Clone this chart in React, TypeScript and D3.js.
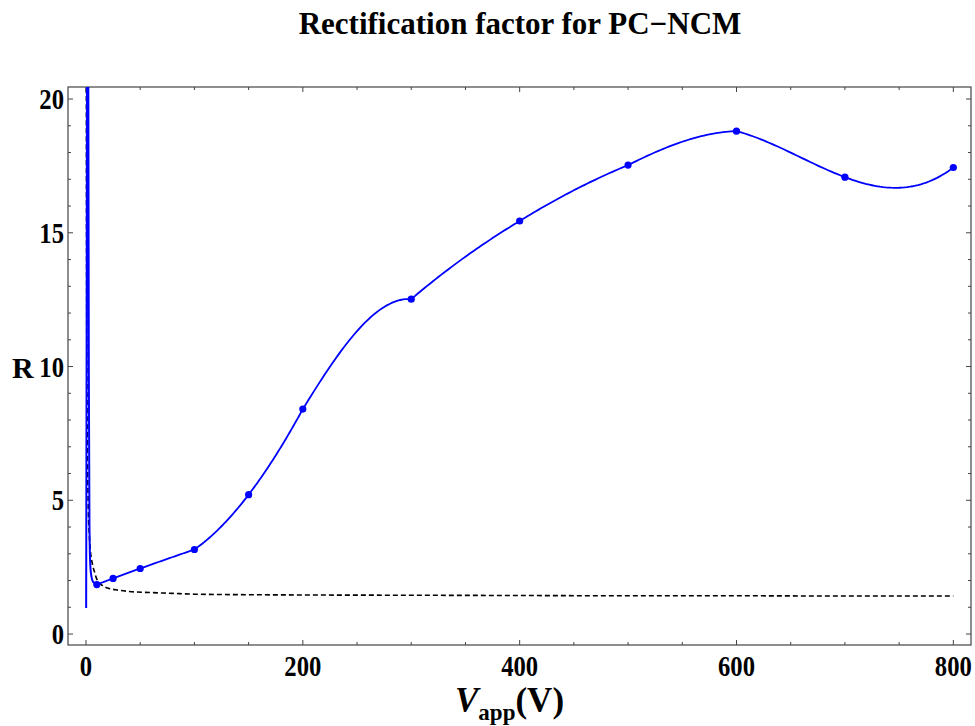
import React from "react";
import * as d3 from "d3";

// Measured points (blue dots)
const voltages = [10, 25, 50, 100, 150, 200, 300, 400, 500, 600, 700, 800];
const rValues = [1.85, 2.08, 2.45, 3.16, 5.21, 8.41, 12.52, 15.44, 17.53, 18.8, 17.08, 17.44];

// Low-voltage spike of the blue interpolating curve
const spikeV = [0.15, 0.7, 1.3, 2.0, 2.6, 3.2, 4.5, 6.5, 10];
const spikeR = [0.97, 14, 32, 24, 10, 4, 2.3, 1.95, 1.85];

// Dashed reference curve
const dashV = [0.3, 0.5, 1, 2, 3, 4, 6, 8, 10, 15, 20, 30, 40, 60, 80, 100, 150, 200, 300, 400, 500, 600, 700, 800];
const dashR = [24, 15, 8.4, 4.9, 3.75, 3.15, 2.6, 2.3, 2.05, 1.82, 1.72, 1.64, 1.59, 1.55, 1.52, 1.49, 1.47, 1.46, 1.45, 1.44, 1.43, 1.43, 1.42, 1.42];

const xMajor = [0, 200, 400, 600, 800];
const yMajor = [0, 5, 10, 15, 20];

const FONT = "'Liberation Serif', 'Times New Roman', serif";
const SX = 0.85;

// local cubic (Lagrange) interpolation through the 4 nodes nearest each interval
function localCubic(xs: number[], ys: number[], perSeg = 40): [number, number][] {
  const n = xs.length;
  const out: [number, number][] = [];
  for (let i = 0; i < n - 1; i++) {
    const mid = (xs[i] + xs[i + 1]) / 2;
    const idx = d3.range(n).sort((a, b) => {
      const da = Math.abs(xs[a] - mid), db = Math.abs(xs[b] - mid);
      return da - db || a - b;
    }).slice(0, 4).sort((a, b) => a - b);
    for (let k = 0; k <= perSeg; k++) {
      if (i > 0 && k === 0) continue;
      const xv = xs[i] + ((xs[i + 1] - xs[i]) * k) / perSeg;
      let s = 0;
      for (const j of idx) {
        let L = 1;
        for (const m of idx) if (m !== j) L *= (xv - xs[m]) / (xs[j] - xs[m]);
        s += L * ys[j];
      }
      out.push([xv, s]);
    }
  }
  return out;
}

export default function App() {
  const W = 975, H = 726;
  const L = 68, R = 971, T = 87, B = 645;
  const x = d3.scaleLinear().domain([-16.6, 816.3]).range([L, R]);
  const y = d3.scaleLinear().domain([-0.41, 20.45]).range([B, T]);

  const main = d3.line<[number, number]>().x((d) => x(d[0])).y((d) => y(d[1]))(localCubic(voltages, rValues)) || "";
  const spike = d3.line<number>().x((_, i) => x(spikeV[i])).y((d) => y(d)).curve(d3.curveCatmullRom)(spikeR) || "";
  const dash = d3.line<number>().x((_, i) => x(dashV[i])).y((d) => y(d)).curve(d3.curveMonotoneX)(dashR) || "";

  const xMinor = d3.range(0, 801, 50).filter((v) => !xMajor.includes(v));
  const yMinor = d3.range(0, 21, 1).filter((v) => !yMajor.includes(v));
  const axisColor = "#444";

  return (
    <svg width={W} height={H} style={{ position: "absolute", left: 0, top: 0, background: "#fff" }} fontFamily={FONT}>
      <defs>
        <clipPath id="plotclip">
          <rect x={L} y={T} width={R - L} height={B - T} />
        </clipPath>
      </defs>
      <text transform={`translate(520,34)`} textAnchor="middle" fontSize={31} fontWeight="bold">
        Rectification factor for PC−NCM
      </text>

      {/* frame */}
      <rect x={L} y={T} width={R - L} height={B - T} fill="none" stroke={axisColor} strokeWidth={1.2} />

      {/* ticks */}
      {xMajor.map((v) => (
        <g key={"xM" + v}>
          <line x1={x(v)} x2={x(v)} y1={B} y2={B - 5} stroke={axisColor} />
          <line x1={x(v)} x2={x(v)} y1={T} y2={T + 5} stroke={axisColor} />
          <text transform={`translate(${x(v)},676) scale(${SX},1)`} textAnchor="middle" fontSize={29} fontWeight="bold">
            {v}
          </text>
        </g>
      ))}
      {xMinor.map((v) => (
        <g key={"xm" + v}>
          <line x1={x(v)} x2={x(v)} y1={B} y2={B - 3} stroke={axisColor} />
          <line x1={x(v)} x2={x(v)} y1={T} y2={T + 3} stroke={axisColor} />
        </g>
      ))}
      {yMajor.map((v) => (
        <g key={"yM" + v}>
          <line x1={L} x2={L + 5} y1={y(v)} y2={y(v)} stroke={axisColor} />
          <line x1={R} x2={R - 5} y1={y(v)} y2={y(v)} stroke={axisColor} />
          <text transform={`translate(64,${y(v) + 10}) scale(${SX},1)`} textAnchor="end" fontSize={29} fontWeight="bold">
            {v}
          </text>
        </g>
      ))}
      {yMinor.map((v) => (
        <g key={"ym" + v}>
          <line x1={L} x2={L + 3} y1={y(v)} y2={y(v)} stroke={axisColor} />
          <line x1={R} x2={R - 3} y1={y(v)} y2={y(v)} stroke={axisColor} />
        </g>
      ))}

      {/* axis labels */}
      <text transform={`translate(12,378)`} fontSize={30} fontWeight="bold">R</text>
      <text transform={`translate(455,712)`} fontSize={35} fontWeight="bold">
        <tspan fontStyle="italic">V</tspan>
        <tspan fontSize={23} dy={8}>app</tspan>
        <tspan dy={-8}>(V)</tspan>
      </text>

      <g clipPath="url(#plotclip)">
        <path d={dash} fill="none" stroke="#000" strokeWidth={1.6} strokeDasharray="5,3" />
        <path d={spike} fill="none" stroke="#0000ff" strokeWidth={2} />
        <path d={main} fill="none" stroke="#0000ff" strokeWidth={1.8} />
        {voltages.map((v, i) => (
          <circle key={"p" + v} cx={x(v)} cy={y(rValues[i])} r={3.6} fill="#0000ff" />
        ))}
      </g>
    </svg>
  );
}
